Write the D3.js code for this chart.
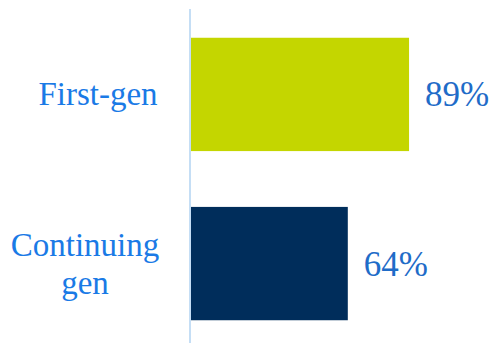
<!DOCTYPE html>
<html>
<head>
<meta charset="utf-8">
<script src="https://cdn.jsdelivr.net/npm/d3@7"></script>
<style>
  body { margin: 0; background: #fff; }
  text { font-family: "Liberation Serif", "DejaVu Serif", serif; }
</style>
</head>
<body>
<div id="chart"></div>
<script>
// data
var categories = ["First-gen", "Continuing gen"];
var labelLines = [["First-gen"], ["Continuing", "gen"]];
var values = [89, 64];

var width = 492, height = 343;

var xScale = d3.scaleLinear().domain([0, 100]).range([191, 436]);
var yScale = d3.scaleBand()
    .domain(categories)
    .range([9, 349])
    .paddingInner(0.33)
    .paddingOuter(0.17);

var svg = d3.select("#chart")
    .append("svg")
    .attr("width", width)
    .attr("height", height);

var barColors = ["#c4d600", "#002d5b"];
var labelCenters = [98, 85];

// bars
svg.append("g")
    .selectAll("rect")
    .data(values)
    .enter()
    .append("rect")
    .attr("x", xScale(0))
    .attr("y", function(d, i) { return yScale(categories[i]); })
    .attr("width", function(d) { return xScale(d) - xScale(0); })
    .attr("height", yScale.bandwidth())
    .attr("fill", function(d, i) { return barColors[i]; });

// axis line
svg.append("line")
    .attr("x1", xScale(0) - 1).attr("x2", xScale(0) - 1)
    .attr("y1", 9).attr("y2", height)
    .attr("stroke", "#c5def5")
    .attr("stroke-width", 2);

// category labels
var catG = svg.append("g")
    .selectAll("text")
    .data(categories)
    .enter()
    .append("text")
    .attr("text-anchor", "middle")
    .attr("font-size", 33)
    .attr("fill", "#1a7ae6")
    .attr("y", function(d) { return yScale(d) + yScale.bandwidth() / 2 + 11; });

catG.each(function(d, i) {
    var lines = labelLines[i];
    var n = lines.length;
    d3.select(this).selectAll("tspan")
        .data(lines)
        .enter()
        .append("tspan")
        .attr("x", labelCenters[i])
        .attr("dy", function(l, j) { return j === 0 ? -(n - 1) * 19 : 38; })
        .text(function(l) { return l; });
});

// value labels
svg.append("g")
    .selectAll("text")
    .data(values)
    .enter()
    .append("text")
    .attr("x", function(d) { return xScale(d) + 16; })
    .attr("y", function(d, i) { return yScale(categories[i]) + yScale.bandwidth() / 2 + 12; })
    .attr("font-size", 35)
    .attr("fill", "#1f6cc8")
    .text(function(d) { return d + "%"; });
</script>
</body>
</html>
